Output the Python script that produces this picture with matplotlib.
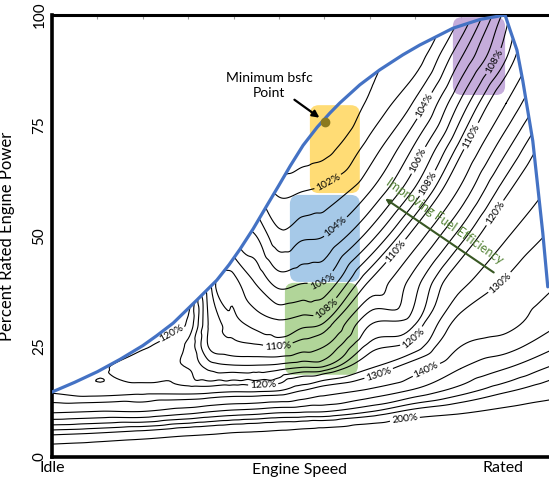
import numpy as np
import matplotlib
matplotlib.use("Agg")
import matplotlib.pyplot as plt
import matplotlib.tri as mtri
from matplotlib.path import Path
from matplotlib.patches import FancyBboxPatch
from matplotlib.ticker import FixedLocator

plt.rcParams['font.family'] = ['Lato', 'DejaVu Sans']

# ---------------- data ----------------
SPEED = [0.0, 0.1, 0.2, 0.3, 0.35, 0.4, 0.45, 0.5, 0.55, 0.6, 0.7, 0.8, 0.9, 1.0, 1.1]
POWER = [0, 5, 10, 15, 20, 25, 30, 40, 50, 60, 70, 80, 90, 100]
BSFC = [
    [230, 238, 245, 248, 249, 250, 251, 252, 255, 258, 270, 285, 296, 302, 310],
    [180, 184, 190, 198, 201, 205, 207, 210, 214, 218, 230, 245, 255, 265, 275],
    [140, 142, 142, 148, 152, 155, 157, 160, 161, 162, 172, 188, 198, 210, 220],
    [124, 122, 123, 122.5, 123, 124, 124, 125, 130, 135, 142, 152, 165, 178, 190],
    [123, 120.5, 118.5, 118, 115.5, 115, 115, 115.5, 116.5, 117, 125, 136, 150, 160, 172],
    [123, 122, 120.3, 117.5, 111.5, 110.6, 110.3, 110, 111, 112, 118.8, 122.5, 140, 146, 158],
    [123, 122, 121.5, 119.5, 111.3, 109.5, 108.7, 108.3, 108.7, 109.2, 115.9, 118, 133, 137, 148],
    [123, 122, 122, 122, 110, 108.3, 106.8, 105.5, 105.8, 106, 110, 115, 123, 130.5, 138],
    [123, 122, 122, 122, 109, 106, 105, 103.3, 103.8, 104, 106.5, 110.8, 117, 124.5, 131],
    [123, 122, 122, 122, 109, 104, 103, 101.8, 102, 102.3, 104, 107.3, 112.5, 119.5, 126],
    [123, 122, 122, 122, 109, 103, 101, 99.4, 100.3, 100.6, 102.4, 105.2, 109.5, 115.5, 122],
    [123, 122, 122, 122, 109, 103, 101, 99.5, 99.5, 99.6, 101.2, 103.2, 107.2, 112, 118],
    [123, 122, 122, 122, 109, 103, 101, 99.5, 99.5, 99.5, 100.8, 101.5, 105, 109, 115],
    [123, 122, 122, 122, 109, 103, 101, 99.5, 99.5, 99.5, 101, 101, 103, 107.5, 113],
]
ENV_SPEED = [0.0, 0.05, 0.1, 0.15, 0.2, 0.23, 0.267, 0.319, 0.363, 0.39, 0.414,
             0.443, 0.474, 0.5, 0.525, 0.553, 0.584, 0.612, 0.634, 0.678, 0.722,
             0.773, 0.81, 0.883, 0.943, 0.998, 1.009, 1.024, 1.037, 1.059, 1.081,
             1.092]
ENV_POWER = [14.7, 16.9, 19.3, 22.1, 25.2, 27.4, 30.3, 35.5, 40.0, 43.5, 47.0,
             51.6, 57.0, 61.5, 65.9, 70.5, 74.6, 77.8, 80.1, 84.2, 87.6,
             91.0, 93.2, 97.0, 99.0, 100.0, 96.6, 92.1, 85.1, 71.5, 50.7,
             38.5]
LEVELS = [101, 102, 103, 104, 105, 106, 107, 108, 109, 110,
          112, 114, 116, 118, 120, 125, 130, 140, 150, 160, 170, 180, 200]
LABELS = {
    102: [(0.612, 61.5)],
    104: [(0.634, 51.0), (0.826, 79.2)],
    106: [(0.597, 39.4), (0.806, 67.2)],
    108: [(0.606, 33.3), (0.826, 62.0), (0.969, 89.8)],
    110: [(0.498, 24.9), (0.760, 46.4), (0.927, 72.4)],
    120: [(0.266, 26.5), (0.465, 16.7), (0.789, 27.6), (0.976, 55.2)],
    130: [(0.72, 18.8), (0.987, 39.4)],
    140: [(0.828, 19.0)],
    200: [(0.777, 8.8)],
}
MIN_POINT = (0.601, 75.8)

# ---------------- figure ----------------
W, H = 549, 482
fig = plt.figure(figsize=(W / 100, H / 100), dpi=100)
ax = fig.add_axes([52 / W, 25 / H, 497 / W, 442 / H])
ax.set_xlim(0, 497 / 454)
ax.set_ylim(0, 100)

# field -> smooth contours
XS = 100.0
gx, gy = np.meshgrid(np.array(SPEED) * XS, np.array(POWER, dtype=float))
z = np.array(BSFC, dtype=float).ravel()
tri_s = mtri.Triangulation(gx.ravel(), gy.ravel())
interp = mtri.CubicTriInterpolator(tri_s, z, kind='geom')
refiner = mtri.UniformTriRefiner(tri_s)
tri_r, z_r = refiner.refine_field(z, triinterpolator=interp, subdiv=4)
tri_plot = mtri.Triangulation(tri_r.x / XS, tri_r.y, tri_r.triangles)

verts = list(zip(ENV_SPEED, ENV_POWER)) + [(1.3, ENV_POWER[-1]), (1.3, -5),
                                            (-0.1, -5), (-0.1, ENV_POWER[0]),
                                            (ENV_SPEED[0], ENV_POWER[0])]
clip = Path(verts, closed=True)

plain = [lv for lv in LEVELS if lv not in LABELS]
cs = ax.tricontour(tri_plot, z_r, levels=plain, colors='black',
                   linewidths=0.8, zorder=3)
cs.set_clip_path(clip, transform=ax.transData)

for lev, pos in LABELS.items():
    csl = ax.tricontour(tri_plot, z_r, levels=[lev], colors='black',
                        linewidths=0.8, zorder=3)
    csl.set_clip_path(clip, transform=ax.transData)
    ax.clabel(csl, manual=pos, fmt='%d%%', fontsize=7.5,
              inline=True, inline_spacing=2, colors='black')

# highlight boxes
aspect = 454 / 4.42
boxes = [
    ((0.568, 59.7), 0.110, 19.9, '#FFD966'),
    ((0.524, 39.6), 0.154, 19.7, '#9DC3E6'),
    ((0.513, 18.6), 0.161, 20.8, '#A9D18E'),
    ((0.883, 81.9), 0.115, 17.6, '#BFA3D8'),
]
for (x0, y0), w, h, c in boxes:
    ax.add_patch(FancyBboxPatch((x0, y0), w, h,
                                boxstyle='round,pad=0,rounding_size=0.02',
                                mutation_aspect=aspect, fc=c, ec='none',
                                alpha=0.9, zorder=2))

# envelope
ax.plot(ENV_SPEED, ENV_POWER, color='#4472C4', lw=2.3, zorder=4,
        solid_capstyle='round', solid_joinstyle='round')

# minimum bsfc point
ax.plot([MIN_POINT[0]], [MIN_POINT[1]], 'o', ms=6, color='#8C7A1E', zorder=5)
ax.text(0.478, 84.0, 'Minimum bsfc\nPoint', ha='center', va='center',
        fontsize=10, linespacing=1.35, zorder=6)
ax.annotate('', xy=(0.594, 76.4), xytext=(0.529, 81.2),
            arrowprops=dict(arrowstyle='-|>', color='black', lw=1.6,
                            mutation_scale=10), zorder=6)

# improving fuel efficiency arrow
ax.annotate('', xy=(0.729, 58.8), xytext=(0.978, 41.4),
            arrowprops=dict(arrowstyle='-|>', color='#385723', lw=1.5,
                            mutation_scale=7), zorder=6)
ax.text(0.866, 53.4, 'Improving Fuel Efficiency', color='#548235',
        fontsize=9, rotation=-35, rotation_mode='anchor',
        ha='center', va='center', zorder=6)

# axes styling
for s in ['left', 'bottom']:
    ax.spines[s].set_linewidth(2.6)
ax.spines['top'].set_linewidth(2.2)
ax.spines['right'].set_visible(False)

ax.set_yticks([0, 25, 50, 75, 100])
ax.set_yticklabels(['0', '25', '50', '75', '100'], rotation=90, va='center',
                   fontsize=11)
ax.tick_params(axis='y', length=0, pad=4)
ax.set_xticks([0, 0.993])
ax.set_xticklabels(['Idle', 'Rated'], fontsize=11.5)
ax.tick_params(axis='x', which='major', length=0, pad=3, top=False)
ax.xaxis.set_minor_locator(FixedLocator([i / 10 for i in range(11)]))
ax.xaxis.remove_overlapping_locs = False
ax.tick_params(axis='x', which='minor', top=True, bottom=False,
               direction='in', length=3, width=0.8, color='#9a9a9a')

ax.set_ylabel('Percent Rated Engine Power', fontsize=12)
ax.yaxis.set_label_coords(-0.074, 0.5)
fig.text(300 / W, 1 - 470 / H, 'Engine Speed', ha='center', va='center',
         fontsize=11.5)

fig.savefig('out.png', dpi=100)
